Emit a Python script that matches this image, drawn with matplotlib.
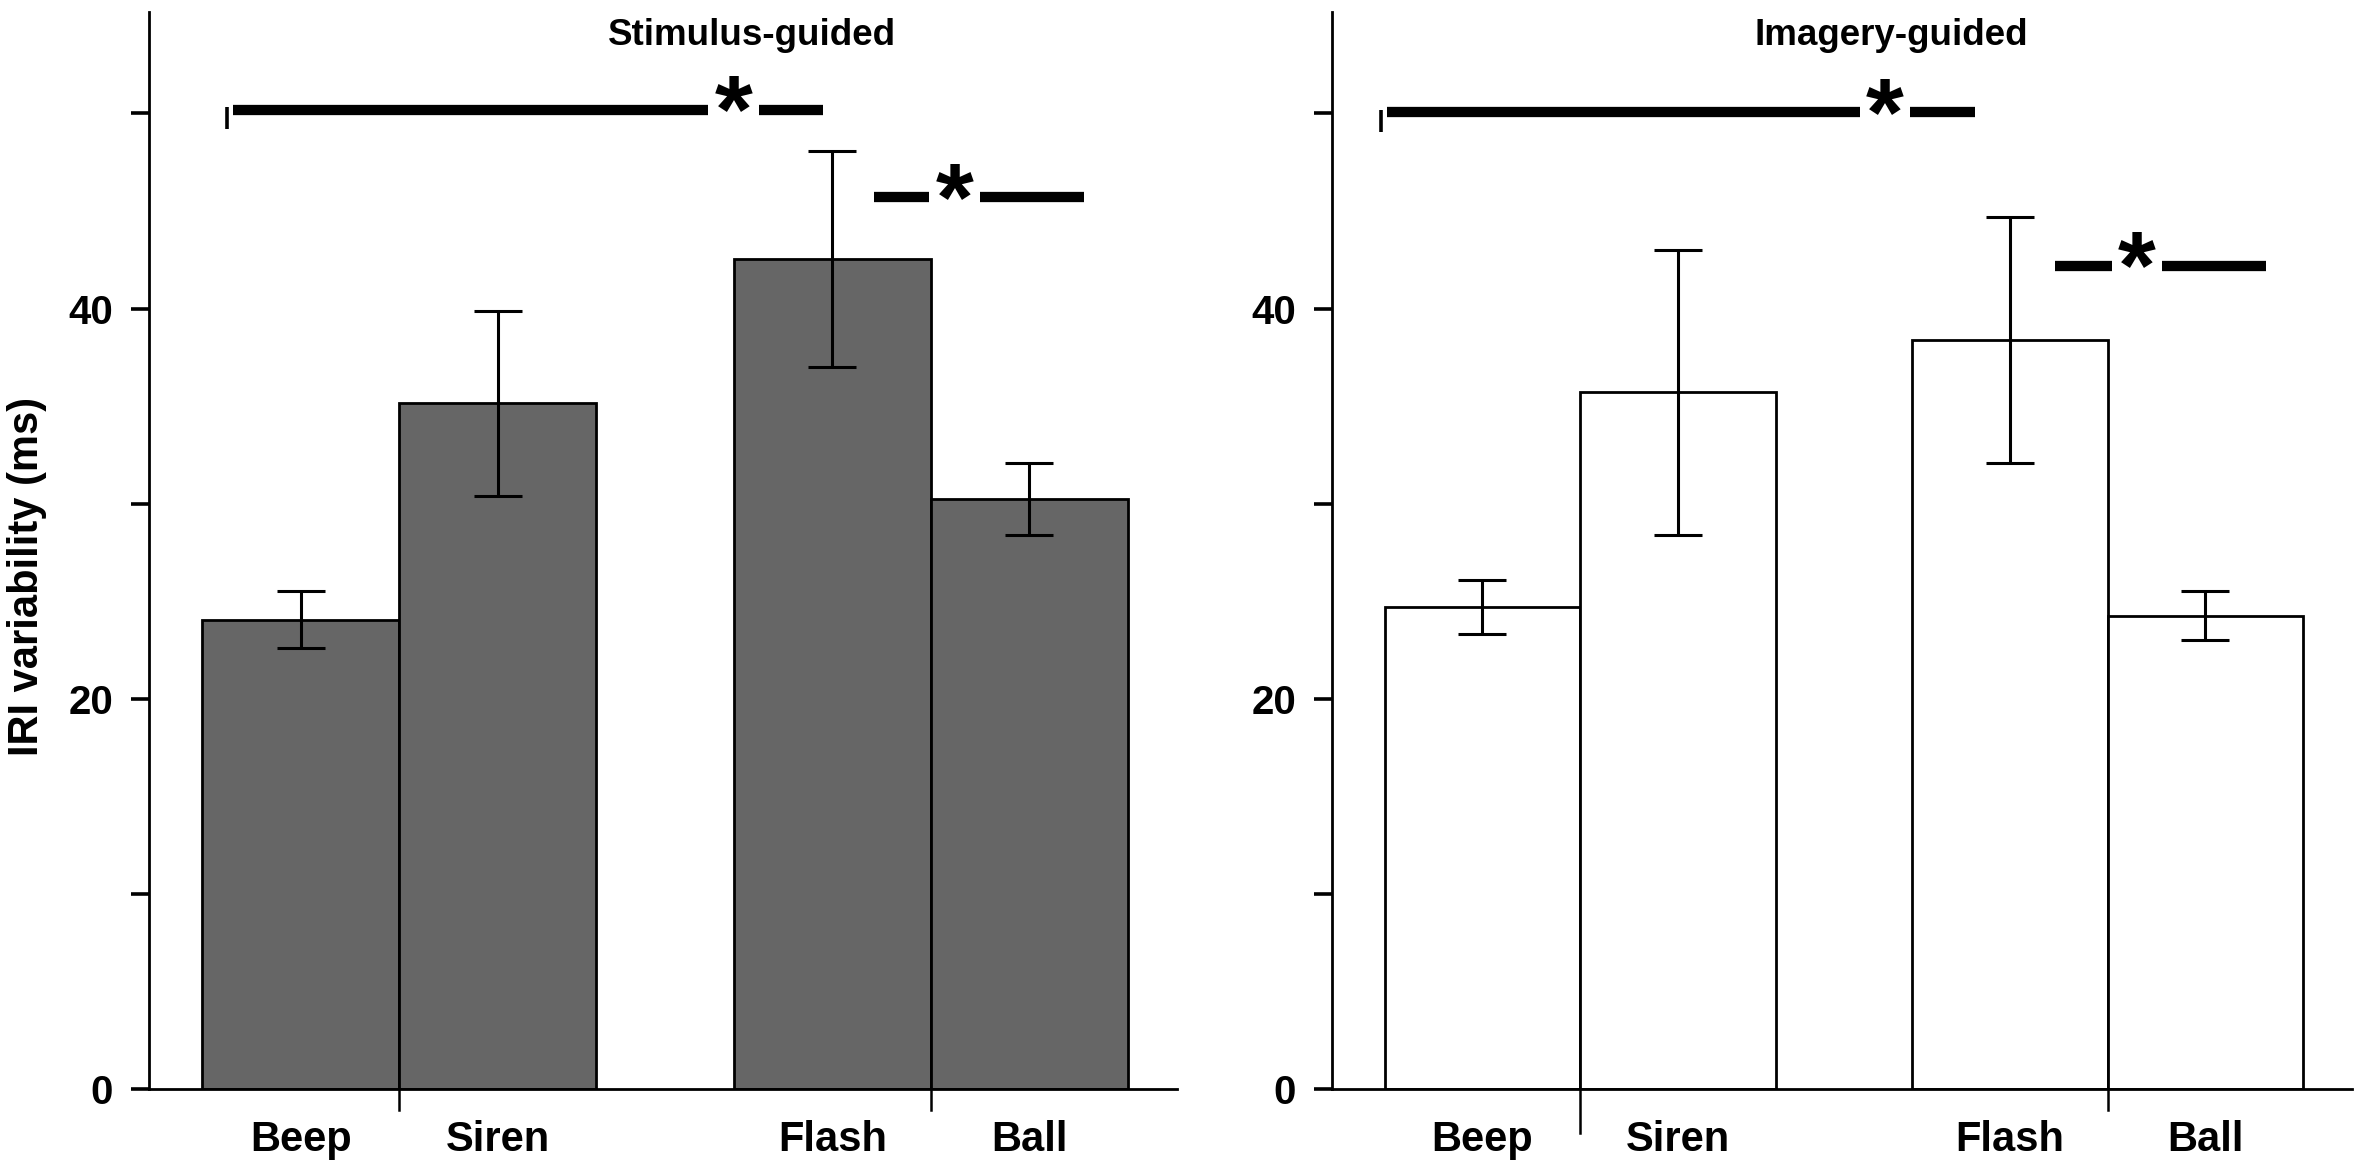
import numpy as np
import matplotlib
matplotlib.use('Agg')
import matplotlib.pyplot as plt
from matplotlib import font_manager as fm

# ---- data ----
conditions = ['Beep', 'Siren', 'Flash', 'Ball']
stim_mean = [24.05, 35.15, 42.55, 30.25]
stim_err = [1.45, 4.75, 5.55, 1.85]
imag_mean = [24.7, 35.7, 38.4, 24.25]
imag_err = [1.4, 7.3, 6.3, 1.25]
panel_titles = ['Stimulus-guided', 'Imagery-guided']
ylabel = 'IRI variability (ms)'
yticks = [0, 10, 20, 30, 40, 50]
ytick_labels = ['0', '', '20', '', '40', '']
# significance brackets: (x start, x end, x of star, y) in bar units
stim_sig = [(0.157, 3.15, 2.70, 50.2), (3.41, 4.48, 3.82, 45.7)]
imag_sig = [(0.01, 3.02, 2.56, 50.05), (3.43, 4.51, 3.85, 42.2)]

# ---- layout ----
W, H = 2362, 1169
bar_left = np.array([0, 1, 2.70, 3.70])
bar_w = 1.0
XLIM = (-0.27, 4.95)
YLIM = (0, 55.2)
INK = '#000000'
DARK = '#666666'

names = {f.name for f in fm.fontManager.ttflist}
BASE = ['Liberation Sans', 'DejaVu Sans']
if 'Liberation Sans Narrow' in names:
    TITLE_FAM, TITLE_SIZE = ['Liberation Sans Narrow'] + BASE, 30
else:
    TITLE_FAM, TITLE_SIZE = BASE, 26.5
plt.rcParams.update({'font.family': BASE, 'font.weight': 'bold'})

fig = plt.figure(figsize=(W / 100, H / 100), dpi=100)
bottom = 1 - 1089 / H
height = (1089 - 12) / H
axL = fig.add_axes([149 / W, bottom, (1177 - 149) / W, height])
axR = fig.add_axes([1332 / W, bottom, (2352 - 1332) / W, height])


def draw_panel(ax, means, errs, color, title, title_x, sig, div_len):
    ax.bar(bar_left, means, bar_w, align='edge', color=color, edgecolor=INK,
           linewidth=2.0, zorder=2)
    centers = bar_left + bar_w / 2
    ax.errorbar(centers, means, yerr=errs, fmt='none', ecolor=INK, elinewidth=2.2,
                capsize=17.6, capthick=2.2, zorder=3)
    ax.set_xlim(*XLIM); ax.set_ylim(*YLIM)
    for s in ('top', 'right'):
        ax.spines[s].set_visible(False)
    for s in ('left', 'bottom'):
        ax.spines[s].set_linewidth(2.0)
    ax.set_yticks(yticks)
    ax.set_yticklabels(ytick_labels, fontsize=29, fontweight='bold')
    ax.tick_params(axis='y', direction='out', length=13, width=2.6, pad=13)
    ax.set_xticks(centers)
    ax.set_xticklabels(conditions, fontsize=30, fontweight='bold')
    ax.tick_params(axis='x', length=0, pad=22)
    # divider ticks between paired bars
    for xd, ln in zip(bar_left[[1, 3]], div_len):
        ax.plot([xd, xd], [0, -ln], color=INK, lw=1.8, clip_on=False, zorder=4)
    ax.text(title_x, 53.5, title, ha='center', va='baseline', fontsize=TITLE_SIZE,
            fontweight='bold', family=TITLE_FAM)
    for i, (x0, x1, xs, y) in enumerate(sig):
        gap = 0.13
        ax.plot([x0, xs - gap], [y, y], color=INK, lw=7.4, solid_capstyle='butt', zorder=4)
        ax.plot([xs + gap, x1], [y, y], color=INK, lw=7.4, solid_capstyle='butt', zorder=4)
        ax.text(xs, y - 0.4, '*', ha='center', va='center', fontsize=70,
                fontweight='bold', zorder=5)
        if i == 0:
            ax.plot([x0 - 0.03, x0 - 0.03], [y + 0.15, y - 1.0], color=INK, lw=2.6,
                    solid_capstyle='butt', zorder=4)


draw_panel(axL, stim_mean, stim_err, DARK, panel_titles[0], 2.79, stim_sig, [1.1, 1.1])
draw_panel(axR, imag_mean, imag_err, 'white', panel_titles[1], 2.59, imag_sig, [2.25, 1.1])

fig.text(27 / W, 1 - 576 / H, ylabel, rotation=90, ha='center', va='center',
         fontsize=30, fontweight='bold')

fig.savefig('out.png', dpi=100)
